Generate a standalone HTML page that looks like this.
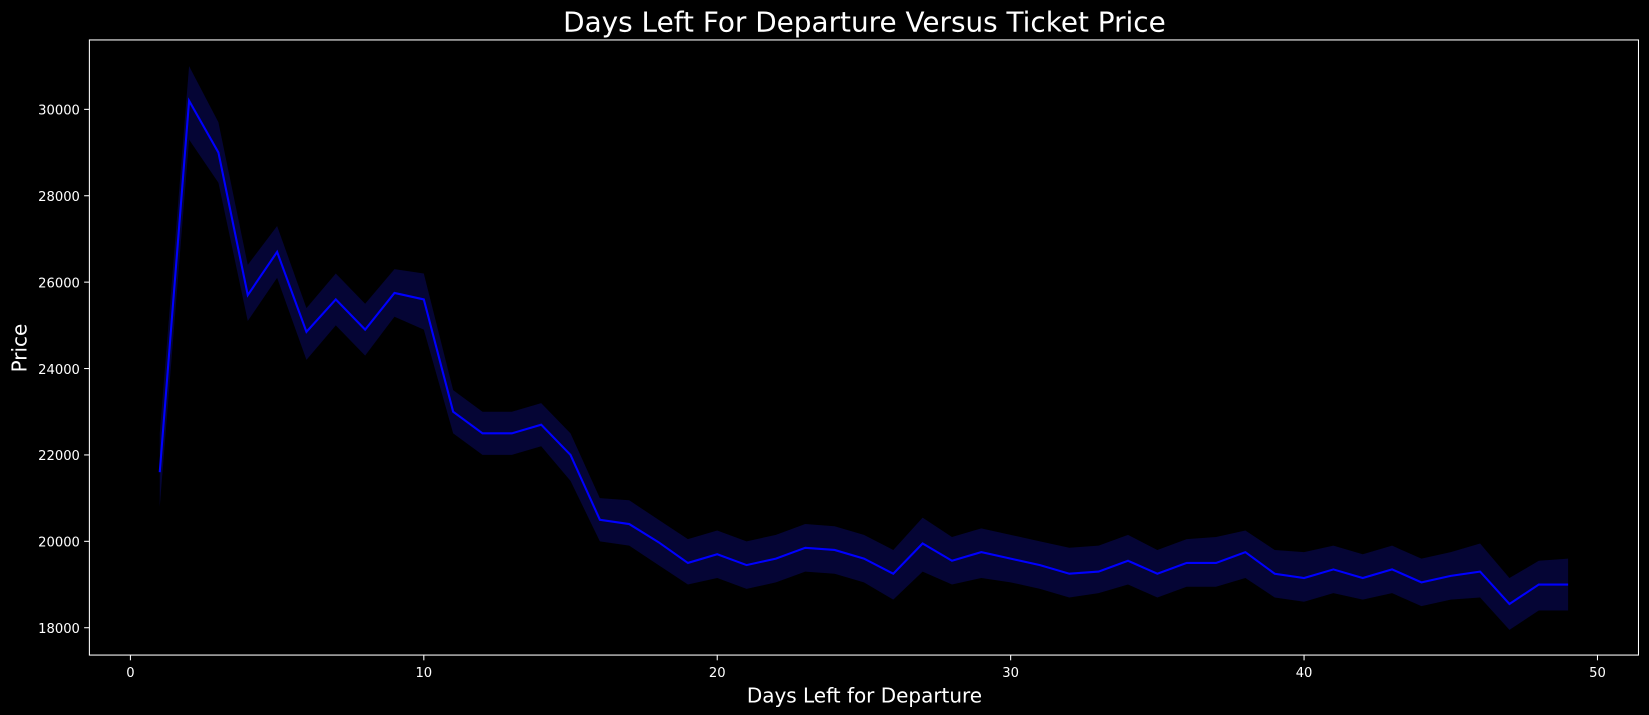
<!DOCTYPE html>
<html><head><meta charset="utf-8"><style>
html,body{margin:0;padding:0;background:#000;}
svg{display:block;font-family:"DejaVu Sans","Liberation Sans",sans-serif;}
</style></head><body>
<svg id="chart" width="1649" height="715" viewBox="0 0 1568 680" preserveAspectRatio="none" xmlns="http://www.w3.org/2000/svg">
<rect width="1568" height="680" fill="#000"/>
<text x="822" y="30" fill="#fff" font-size="26.5" text-anchor="middle">Days Left For Departure Versus Ticket Price</text>
<text x="822" y="668" fill="#fff" font-size="19" text-anchor="middle">Days Left for Departure</text>
<text x="25" y="331" fill="#fff" font-size="19" text-anchor="middle" transform="rotate(-90 25 331)">Price</text>
<g id="plot"></g>
<rect x="85" y="38" width="1473" height="585" fill="none" stroke="#fff" stroke-width="1"/>
</svg>
<script>
const days = [1,2,3,4,5,6,7,8,9,10,11,12,13,14,15,16,17,18,19,20,21,22,23,24,25,26,27,28,29,30,31,32,33,34,35,36,37,38,39,40,41,42,43,44,45,46,47,48,49];
const price = [21600,30200,29000,25700,26700,24850,25600,24900,25750,25600,23000,22500,22500,22700,22000,20500,20400,19980,19500,19700,19450,19600,19850,19800,19600,19250,19950,19550,19750,19600,19450,19250,19300,19550,19250,19500,19500,19750,19250,19150,19350,19150,19350,19050,19200,19300,18550,19000,19000];
const lower = [20800,29300,28300,25100,26100,24200,25000,24300,25200,24900,22500,22000,22000,22200,21400,20000,19900,19450,19000,19150,18900,19050,19300,19250,19050,18650,19300,19000,19150,19050,18900,18700,18800,19000,18700,18950,18950,19150,18700,18600,18800,18650,18800,18500,18650,18700,17950,18400,18400];
const upper = [22500,31000,29700,26400,27300,25400,26200,25500,26300,26200,23500,23000,23000,23200,22500,21000,20950,20500,20050,20250,20000,20150,20400,20350,20150,19800,20550,20100,20300,20150,20000,19850,19900,20150,19800,20050,20100,20250,19800,19750,19900,19700,19900,19600,19750,19950,19150,19550,19600];
const xTicks = [0,10,20,30,40,50];
const yTicks = [18000,20000,22000,24000,26000,28000,30000];

const NS = "http://www.w3.org/2000/svg";
const X = v => 124 + (v - 0) * (1519 - 124) / 50;
const Y = v => 597 - (v - 18000) * (597 - 104) / 12000;
const plot = document.getElementById('plot');
const svg = document.getElementById('chart');

let bandD = 'M' + days.map((d,i)=>X(d)+','+Y(upper[i])).join(' L');
for (let i = days.length-1; i >= 0; i--) bandD += ' L' + X(days[i]) + ',' + Y(lower[i]);
bandD += ' Z';
const band = document.createElementNS(NS,'path');
band.setAttribute('d', bandD);
band.setAttribute('fill', '#050535');


plot.appendChild(band);

const line = document.createElementNS(NS,'path');
line.setAttribute('d', 'M' + days.map((d,i)=>X(d)+','+Y(price[i])).join(' L'));
line.setAttribute('fill', 'none');
line.setAttribute('stroke', '#0000ff');
line.setAttribute('stroke-width', '2');


plot.appendChild(line);

xTicks.forEach(t => {
  const l = document.createElementNS(NS,'line');
  l.setAttribute('x1', X(t)); l.setAttribute('x2', X(t));
  l.setAttribute('y1', 623); l.setAttribute('y2', 628);
  l.setAttribute('stroke', '#fff');
  
  
  svg.appendChild(l);
  const tx = document.createElementNS(NS,'text');
  tx.setAttribute('x', X(t)); tx.setAttribute('y', 644);
  tx.setAttribute('fill', '#fff'); tx.setAttribute('font-size', '12.5');
  tx.setAttribute('text-anchor', 'middle');
  
  
  tx.textContent = t;
  svg.appendChild(tx);
});
yTicks.forEach(t => {
  const l = document.createElementNS(NS,'line');
  l.setAttribute('x1', 80); l.setAttribute('x2', 85);
  l.setAttribute('y1', Y(t)); l.setAttribute('y2', Y(t));
  l.setAttribute('stroke', '#fff');
  
  
  svg.appendChild(l);
  const tx = document.createElementNS(NS,'text');
  tx.setAttribute('x', 76); tx.setAttribute('y', Y(t) + 5);
  tx.setAttribute('fill', '#fff'); tx.setAttribute('font-size', '12.5');
  tx.setAttribute('text-anchor', 'end');
  
  
  tx.textContent = t;
  svg.appendChild(tx);
});
</script>
</body></html>
